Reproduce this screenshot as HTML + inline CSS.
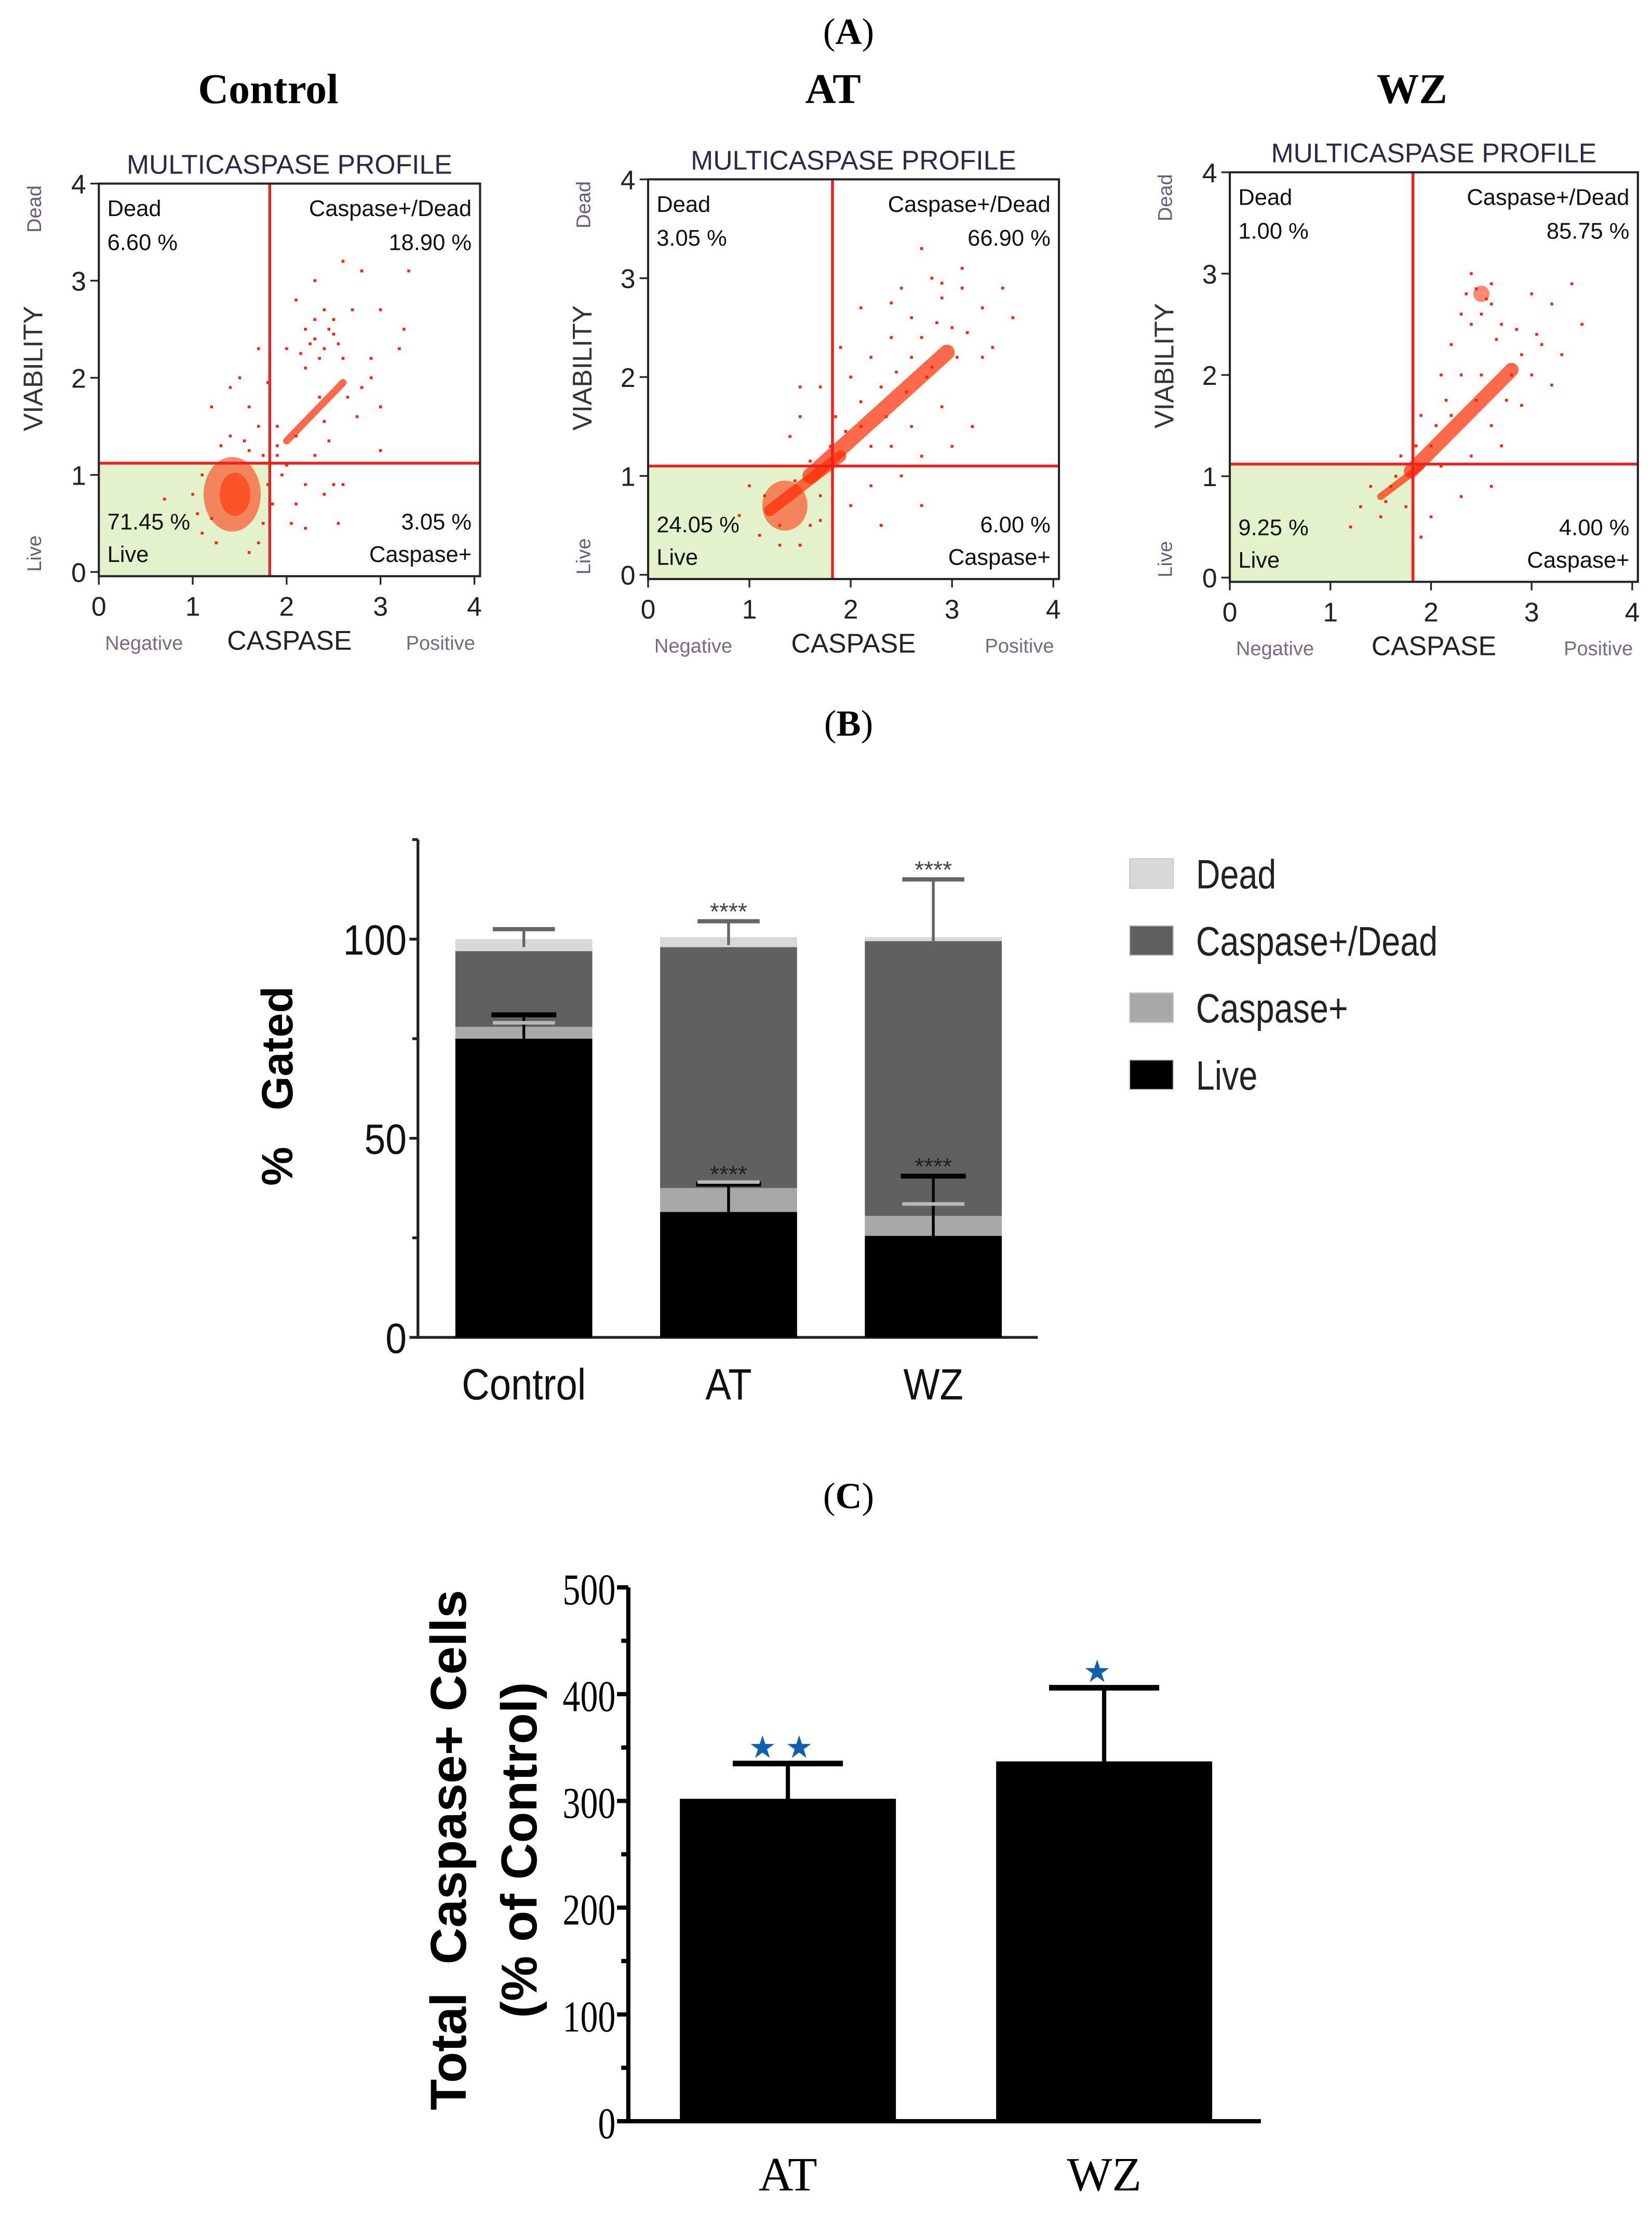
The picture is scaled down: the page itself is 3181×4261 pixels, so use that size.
<!DOCTYPE html>
<html><head><meta charset="utf-8">
<style>
html,body{margin:0;padding:0;background:#fff;}
svg{display:block;}
</style></head>
<body>
<svg id="fig" width="3181" height="4261" viewBox="0 0 1170 1567" preserveAspectRatio="none" xmlns="http://www.w3.org/2000/svg">
<rect width="1170" height="1567" fill="#fff"/>
<text font-family="Liberation Serif, serif" x="601" y="31" font-size="26" text-anchor="middle">(<tspan font-weight="bold">A</tspan>)</text>
<text font-family="Liberation Serif, serif" x="601" y="521" font-size="26" text-anchor="middle">(<tspan font-weight="bold">B</tspan>)</text>
<text font-family="Liberation Serif, serif" x="601" y="1068" font-size="26" text-anchor="middle">(<tspan font-weight="bold">C</tspan>)</text>
<g id="panelA"></g>
<g id="panelB"></g>
<g id="panelC"></g>
</svg>
<script>
// ---------- Panel A data ----------
const plotTitles = ["Control", "AT", "WZ"];
const gateX = [1.82, 1.82, 1.82];
const gateY = [1.12, 1.1, 1.12];
const deadPct = ["6.60 %", "3.05 %", "1.00 %"];
const caspDeadPct = ["18.90 %", "66.90 %", "85.75 %"];
const livePct = ["71.45 %", "24.05 %", "9.25 %"];
const caspPct = ["3.05 %", "6.00 %", "4.00 %"];
const coresControl = [[1.42,0.8,0.3,0.38],[1.45,0.8,0.16,0.22]];
const coresAT = [[1.35,0.7,0.22,0.25]];
const coresWZ = [[2.5,2.8,0.08,0.08]];
const bandsControl = [[2.0,1.35,2.6,1.95,5]];
const bandsAT = [[1.6,1.0,2.95,2.25,11],[1.2,0.65,1.9,1.2,8]];
const bandsWZ = [[1.8,1.05,2.8,2.05,10],[1.5,0.8,1.9,1.1,5]];
const ptsControl = [[2.3,3.0],[2.6,3.2],[2.8,3.1],[3.3,3.1],[2.1,2.8],[2.4,2.7],[2.5,2.6],[2.2,2.5],[2.3,2.4],[2.4,2.3],[2.35,2.2],[2.5,2.45],[2.7,2.7],[3.0,2.7],[3.25,2.5],[2.9,2.2],[3.2,2.3],[2.0,2.3],[2.2,2.1],[2.6,2.2],[2.8,1.9],[3.0,1.7],[1.7,2.3],[1.5,2.0],[1.4,1.9],[1.2,1.7],[1.6,1.7],[1.4,1.4],[1.7,1.5],[1.9,1.5],[2.1,1.4],[2.3,1.2],[2.0,1.1],[2.2,0.9],[2.4,0.8],[2.5,0.9],[2.6,0.9],[2.1,0.7],[2.2,0.45],[2.05,0.5],[1.8,0.9],[1.85,0.7],[1.1,0.4],[1.25,0.3],[0.7,0.75],[1.0,0.8],[1.6,0.2],[1.9,1.3],[2.75,1.6],[3.0,1.25],[2.4,1.55],[2.9,2.0],[1.8,1.95],[1.3,1.3],[2.55,0.5],[2.25,2.35],[2.45,2.5],[2.3,2.6],[2.15,2.25],[2.55,2.35],[1.9,1.2],[1.95,1.0],[1.75,1.2],[1.6,1.25],[1.55,1.35],[1.1,1.0],[1.05,0.6],[1.2,0.55],[1.75,0.5],[1.7,0.3],[2.45,1.35],[2.65,1.8],[2.35,1.8]];
const ptsAT = [[2.7,3.3],[2.8,3.0],[2.5,2.9],[2.9,2.8],[3.1,2.9],[2.6,2.6],[3.3,2.7],[2.4,2.4],[2.2,2.2],[2.0,2.0],[2.3,1.9],[2.6,1.5],[2.9,1.7],[3.2,1.5],[3.0,1.3],[2.7,1.2],[2.5,1.0],[2.2,0.9],[2.0,0.7],[2.3,0.5],[2.7,0.7],[3.4,2.3],[3.5,2.9],[1.9,2.3],[1.7,1.9],[1.5,1.6],[1.4,1.4],[1.2,1.1],[1.0,0.9],[0.9,0.6],[1.1,0.4],[1.3,0.3],[1.5,0.3],[1.6,0.5],[1.7,0.8],[2.1,1.5],[3.0,2.5],[2.8,2.1],[3.3,2.2],[2.4,1.3],[3.6,2.6],[1.5,1.9],[2.6,2.2],[2.1,2.7],[3.1,3.1],[2.7,2.4],[2.85,2.55],[2.45,2.05],[2.1,1.75],[1.95,1.45],[2.35,1.6],[2.55,1.85],[2.75,2.0],[3.05,2.2],[3.15,2.45],[2.2,1.3],[1.8,1.3],[1.6,1.15],[1.45,0.95],[1.15,0.8],[1.3,0.5],[1.7,0.55],[1.85,1.6],[2.9,2.95],[2.4,2.75]];
const ptsWZ = [[2.4,3.0],[2.6,2.9],[2.5,2.6],[2.3,2.6],[2.7,2.5],[3.0,2.8],[3.2,2.7],[3.4,2.9],[3.5,2.5],[3.1,2.3],[2.9,2.2],[2.2,2.3],[2.1,2.0],[1.9,1.6],[2.2,1.6],[2.6,1.5],[2.9,1.7],[3.2,1.9],[2.4,1.2],[2.1,1.1],[2.3,0.8],[2.6,0.9],[2.0,0.6],[1.9,0.4],[1.5,0.6],[1.3,0.7],[1.2,0.5],[1.4,0.9],[1.6,0.9],[1.7,1.2],[2.0,1.3],[2.8,2.0],[3.0,2.0],[2.5,2.0],[2.35,2.8],[2.55,2.75],[3.3,2.2],[2.7,1.3],[2.45,2.85],[2.6,2.7],[2.4,2.5],[2.65,2.35],[2.3,2.0],[2.15,1.75],[2.45,1.75],[2.05,1.5],[1.85,1.3],[1.65,1.0],[1.55,0.75],[1.75,0.7],[2.75,1.75],[3.05,2.4],[2.85,2.45]];
const coreSets=[coresControl,coresAT,coresWZ], bandSets=[bandsControl,bandsAT,bandsWZ], ptSets=[ptsControl,ptsAT,ptsWZ];
const xTickVals=[0,1,2,3,4], yTickVals=[0,1,2,3,4];
const boxes=[{l:70,r:340,t:130,b:408,tx:190},{l:459,r:750,t:127,b:410,tx:590},{l:871,r:1160,t:122,b:412,tx:1000}];

// ---------- Panel B data ----------
const groupsB = ["Control","AT","WZ"];
const liveVals = [75, 31.5, 25.5];
const caspVals = [3, 6, 5];
const caspDeadVals = [19, 60.5, 69];
const deadVals = [3, 2.5, 1];
const liveErrTop = [81, 38.5, 40.5];
const caspErrTop = [79, 39, 33.5];
const totalErrTop = [102.5, 104.5, 115];
const sigLive = ["", "****", "****"];
const sigTotal = ["", "****", "****"];
const yTicksB = [0,50,100];
const yMinorB = [25,75,125];
const legendLabels = ["Dead","Caspase+/Dead","Caspase+","Live"];
const legendColors = ["#d8d8d8","#606060","#a8a8aa","#000000"];

// ---------- Panel C data ----------
const groupsC = ["AT","WZ"];
const totalCasp = [302, 337];
const totalErr = [335, 406];
const sigC = [2, 1];
const yTicksC = [0,100,200,300,400,500];

const NS="http://www.w3.org/2000/svg";
function mk(parent,tag,attrs,text){const e=document.createElementNS(NS,tag);for(const k in attrs)e.setAttribute(k,attrs[k]);if(text!==undefined)e.textContent=text;parent.appendChild(e);return e;}

// ===== Panel A =====
const A=document.getElementById('panelA');
boxes.forEach((bx,i)=>{
  const g=mk(A,'g',{});
  
  
  const sx=v=>bx.l+v/4*(bx.r-4-bx.l);
  const sy=v=>bx.b-3-v/4*(bx.b-3-bx.t);
  const t=mk(g,'text',{x:bx.tx,y:73,'font-size':30,'font-weight':'bold','text-anchor':'middle','font-family':'Liberation Serif, serif'},plotTitles[i]);
  
  
  const h=mk(g,'text',{x:(bx.l+bx.r)/2,y:bx.t-7,'font-size':19,'text-anchor':'middle','font-family':'Liberation Sans, sans-serif',fill:'#2a2a48'},'MULTICASPASE PROFILE');
  
  
  const gr=mk(g,'rect',{x:bx.l,y:sy(gateY[i]),width:sx(gateX[i])-bx.l,height:bx.b-sy(gateY[i]),fill:'#e4f2cc'});
  
  
  coreSets[i].forEach(c=>{
    const e=mk(g,'ellipse',{cx:sx(c[0]),cy:sy(c[1]),rx:c[2]/4*(bx.r-bx.l),ry:c[3]/4*(bx.b-bx.t),fill:'#ff2a00',opacity:0.55});
    
    
  });
  bandSets[i].forEach(c=>{
    const e=mk(g,'line',{x1:sx(c[0]),y1:sy(c[1]),x2:sx(c[2]),y2:sy(c[3]),stroke:'#ff2a00','stroke-width':c[4],'stroke-linecap':'round',opacity:0.7});
    
    
  });
  ptSets[i].forEach(p=>{
    const e=mk(g,'rect',{x:sx(p[0])-1,y:sy(p[1])-1,width:2,height:2,fill:'#ff2200'});
    
    
  });
  const vl=mk(g,'line',{x1:sx(gateX[i]),x2:sx(gateX[i]),y1:bx.t,y2:bx.b,stroke:'#ee2020','stroke-width':2});
  
  
  const hl=mk(g,'line',{x1:bx.l,x2:bx.r,y1:sy(gateY[i]),y2:sy(gateY[i]),stroke:'#ee2020','stroke-width':2});
  
  
  const fr=mk(g,'rect',{x:bx.l,y:bx.t,width:bx.r-bx.l,height:bx.b-bx.t,fill:'none',stroke:'#222','stroke-width':1.5});
  
  
  xTickVals.forEach(v=>{
    mk(g,'line',{x1:sx(v),x2:sx(v),y1:bx.b,y2:bx.b+6,stroke:'#222','stroke-width':1.2});
    const tl=mk(g,'text',{x:sx(v),y:bx.b+28,'font-size':19,'text-anchor':'middle','font-family':'Liberation Sans, sans-serif',fill:'#222'},v);
    
    
  });
  yTickVals.forEach(v=>{
    mk(g,'line',{x1:bx.l-6,x2:bx.l,y1:sy(v),y2:sy(v),stroke:'#222','stroke-width':1.2});
    const tl=mk(g,'text',{x:bx.l-9,y:sy(v)+7,'font-size':19,'text-anchor':'end','font-family':'Liberation Sans, sans-serif',fill:'#222'},v);
    
    
  });
  const fs=16, ff='Liberation Sans, sans-serif', c='#111';
  const q=[[bx.l+6,bx.t+23,'start','Dead'],[bx.l+6,bx.t+47,'start',deadPct[i]],[bx.r-6,bx.t+23,'end','Caspase+/Dead'],[bx.r-6,bx.t+47,'end',caspDeadPct[i]],
           [bx.l+6,bx.b-33,'start',livePct[i]],[bx.l+6,bx.b-10,'start','Live'],[bx.r-6,bx.b-33,'end',caspPct[i]],[bx.r-6,bx.b-10,'end','Caspase+']];
  q.forEach(a=>{const e=mk(g,'text',{x:a[0],y:a[1],'font-size':fs,'text-anchor':a[2],'font-family':ff,fill:c},a[3]);
    
    });
  const my=(bx.t+bx.b)/2;
  const vy=mk(g,'text',{x:0,y:0,'font-size':19,'text-anchor':'middle','font-family':ff,fill:'#333',transform:`translate(${bx.l-40},${my-8}) rotate(-90)`},'VIABILITY');
  
  
  const dd=mk(g,'text',{x:0,y:0,'font-size':14,'text-anchor':'middle','font-family':ff,fill:'#6a5a78',transform:`translate(${bx.l-41},${bx.t+18}) rotate(-90)`},'Dead');
  
  
  const lv=mk(g,'text',{x:0,y:0,'font-size':14,'text-anchor':'middle','font-family':ff,fill:'#6a5a78',transform:`translate(${bx.l-41},${bx.b-16}) rotate(-90)`},'Live');
  
  
  const ng=mk(g,'text',{x:bx.l+32,y:bx.b+52,'font-size':14,'text-anchor':'middle','font-family':ff,fill:'#7a6a80'},'Negative');
  
  
  const ps=mk(g,'text',{x:bx.r-28,y:bx.b+52,'font-size':14,'text-anchor':'middle','font-family':ff,fill:'#7a6a80'},'Positive');
  
  
  const cx=mk(g,'text',{x:(bx.l+bx.r)/2,y:bx.b+52,'font-size':19,'text-anchor':'middle','font-family':ff,fill:'#222'},'CASPASE');
  
  
});

// ===== Panel B =====
const B=document.getElementById('panelB');
const bx0=296, by0=947, byPer=2.82;
const yB=v=>by0-v*byPer;
const barCenters=[371,516,661], barW=97;
const axB=mk(B,'path',{d:`M${bx0} ${yB(125)} V${by0} H735`,stroke:'#222','stroke-width':2,fill:'none'});


yTicksB.forEach(v=>{
  mk(B,'line',{x1:bx0-6,x2:bx0,y1:yB(v),y2:yB(v),stroke:'#222','stroke-width':2});
  const t=mk(B,'text',{x:bx0-8,y:yB(v)+11,'font-size':30,'text-anchor':'end','font-family':'Liberation Sans, sans-serif',fill:'#111',textLength:String(v).length*15,lengthAdjust:'spacingAndGlyphs'},v);
  
  
});
yMinorB.forEach(v=>{mk(B,'line',{x1:bx0-4,x2:bx0,y1:yB(v),y2:yB(v),stroke:'#222','stroke-width':2});});
groupsB.forEach((gname,i)=>{
  const g=mk(B,'g',{});
  
  
  const x=barCenters[i]-barW/2;
  const segs=[[liveVals[i],'#000','live'],[caspVals[i],'#a8a8aa','caspase-pos'],[caspDeadVals[i],'#606060','caspase-dead'],[deadVals[i],'#d8d8d8','dead']];
  let base=0;
  segs.forEach(s=>{
    const r=mk(g,'rect',{x:x,y:yB(base+s[0]),width:barW,height:s[0]*byPer,fill:s[1]});
    
    
    base+=s[0];
  });
  const total=base, liveTop=liveVals[i];
  mk(g,'line',{x1:barCenters[i],x2:barCenters[i],y1:yB(liveTop-6),y2:yB(liveErrTop[i]),stroke:'#000','stroke-width':2});
  const lc=mk(g,'line',{x1:barCenters[i]-23,x2:barCenters[i]+23,y1:yB(liveErrTop[i]),y2:yB(liveErrTop[i]),stroke:'#000','stroke-width':3.5});
  
  
  const cc=mk(g,'line',{x1:barCenters[i]-22,x2:barCenters[i]+22,y1:yB(caspErrTop[i]),y2:yB(caspErrTop[i]),stroke:'#b8b8ba','stroke-width':2.5});
  
  
  mk(g,'line',{x1:barCenters[i],x2:barCenters[i],y1:yB(total-2),y2:yB(totalErrTop[i]),stroke:'#666','stroke-width':2});
  const tc=mk(g,'line',{x1:barCenters[i]-22,x2:barCenters[i]+22,y1:yB(totalErrTop[i]),y2:yB(totalErrTop[i]),stroke:'#666','stroke-width':3});
  
  
  if(sigLive[i]){const s=mk(g,'text',{x:barCenters[i],y:yB(liveErrTop[i])-1,'font-size':17,'text-anchor':'middle','font-family':'Liberation Sans, sans-serif',fill:'#222'},sigLive[i]);
    
    }
  if(sigTotal[i]){const s=mk(g,'text',{x:barCenters[i],y:yB(totalErrTop[i])-1,'font-size':17,'text-anchor':'middle','font-family':'Liberation Sans, sans-serif',fill:'#444'},sigTotal[i]);
    
    }
  const xg=mk(B,'g',{transform:`translate(${barCenters[i]},991) scale(0.88,1)`});
  const xl=mk(xg,'text',{x:0,y:0,'font-size':31,'text-anchor':'middle','font-family':'Liberation Sans, sans-serif',fill:'#111'},gname);
  
  
});
const ytB=mk(B,'text',{x:0,y:0,'font-size':31,'font-weight':'bold','text-anchor':'middle','font-family':'Liberation Sans, sans-serif',fill:'#000',transform:'translate(207,769) rotate(-90)'},'%\u00a0\u00a0\u00a0Gated');


legendLabels.forEach((lab,i)=>{
  const y=618+i*47.5;
  const g=mk(B,'g',{});
  
  
  mk(g,'rect',{x:800,y:y-10,width:31,height:21,fill:legendColors[i],stroke:'#ccc','stroke-width':0.8});
  const tg=mk(g,'g',{transform:`translate(847,${y+11}) scale(0.82,1)`});
  mk(tg,'text',{x:0,y:0,'font-size':29,'font-family':'Liberation Sans, sans-serif',fill:'#222'},lab);
});

// ===== Panel C =====
const C=document.getElementById('panelC');
const cx0=445, cy0=1502, cPer=(1502-1124)/500;
const yC=v=>cy0-v*cPer;
const cCenters=[558,782], cW=153;
const axC=mk(C,'path',{d:`M${cx0} ${yC(500)} V${cy0} H893`,stroke:'#000','stroke-width':3,fill:'none'});


for(let v=0;v<=500;v+=50){mk(C,'line',{x1:cx0-(v%100?5:8),x2:cx0,y1:yC(v),y2:yC(v),stroke:'#000','stroke-width':3});}
yTicksC.forEach(v=>{
  const t=mk(C,'text',{x:cx0-9,y:yC(v)+12,'font-size':31,'text-anchor':'end','font-family':'Liberation Serif, serif',fill:'#000',textLength:String(v).length*12.5,lengthAdjust:'spacingAndGlyphs'},v);
  
  
});
groupsC.forEach((gname,i)=>{
  const g=mk(C,'g',{});
  
  
  mk(g,'rect',{x:cCenters[i]-cW/2,y:yC(totalCasp[i]),width:cW,height:totalCasp[i]*cPer,fill:'#000'});
  mk(g,'line',{x1:cCenters[i],x2:cCenters[i],y1:yC(totalCasp[i]),y2:yC(totalErr[i]),stroke:'#000','stroke-width':3});
  const cap=mk(g,'line',{x1:cCenters[i]-39,x2:cCenters[i]+39,y1:yC(totalErr[i]),y2:yC(totalErr[i]),stroke:'#000','stroke-width':4});
  
  
  const n=sigC[i];
  for(let k=0;k<n;k++){
    const sx=cCenters[i]+(k-(n-1)/2)*26-5;
    const s=mk(g,'text',{x:sx,y:yC(totalErr[i])-4,'font-size':22,'text-anchor':'middle','font-family':'DejaVu Sans, sans-serif',fill:'#1060b0'},'★');
    
    
  }
  const xl=mk(C,'text',{x:cCenters[i],y:1551,'font-size':34,'text-anchor':'middle','font-family':'Liberation Serif, serif',fill:'#000'},gname);
  
  
});
const yt1=mk(C,'text',{x:0,y:0,'font-size':36,'font-weight':'bold','text-anchor':'middle','font-family':'Liberation Sans, sans-serif',fill:'#000',transform:'translate(330,1310) rotate(-90)'},'Total\u00a0\u00a0Caspase+ Cells');


const yt2=mk(C,'text',{x:0,y:0,'font-size':36,'font-weight':'bold','text-anchor':'middle','font-family':'Liberation Sans, sans-serif',fill:'#000',transform:'translate(380,1310) rotate(-90)'},'(% of Control)');


</script>
</body></html>
